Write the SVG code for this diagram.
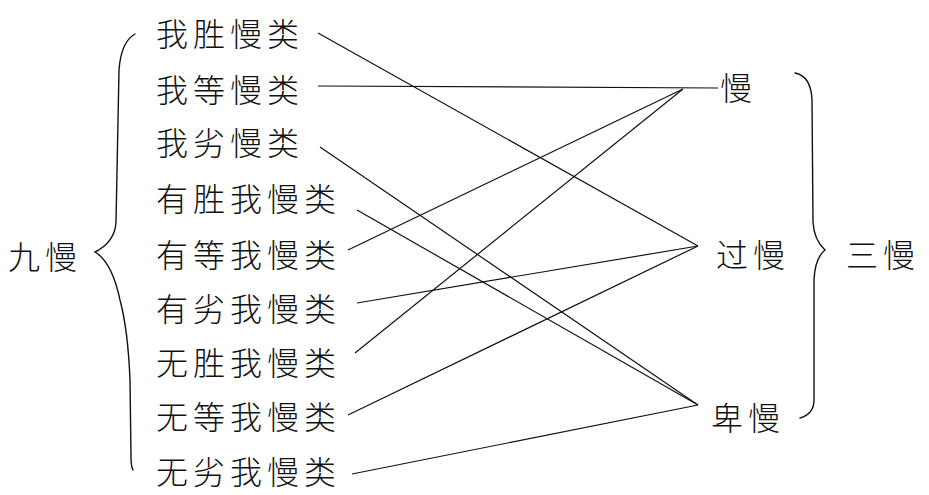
<svg xmlns="http://www.w3.org/2000/svg" width="929" height="495" viewBox="0 0 929 495">
<style>
.t{font-family:"Noto Sans CJK SC","Noto Sans CJK TC",sans-serif;font-size:32px;font-weight:300;fill:#111;dominant-baseline:central;letter-spacing:5px}
.c line{stroke:#111;stroke-width:1.2;fill:none}
.b{stroke:#111;stroke-width:1.4;fill:none;stroke-linecap:round}
</style>
<rect width="929" height="495" fill="#fff"/>
<g id="connectors" class="c">
<line x1="318" y1="33" x2="698" y2="246"/>
<line x1="318" y1="86" x2="718" y2="88"/>
<line x1="320" y1="147" x2="698" y2="405"/>
<line x1="357" y1="210" x2="698" y2="405"/>
<line x1="348" y1="250" x2="683" y2="89"/>
<line x1="357" y1="303" x2="698" y2="246"/>
<line x1="355" y1="353" x2="683" y2="89"/>
<line x1="348" y1="415" x2="698" y2="246"/>
<line x1="352" y1="474" x2="698" y2="405"/>
</g>
<g id="brace-left">
<path class="b" d="M135 34 Q121 42 119 70 L116 222 Q115 242 95 252 Q112 262 120 300 Q128 330 130 380 L131 458 Q131 466 133 470"/>
</g>
<g id="brace-right">
<path class="b" d="M795 73 Q811 76 812 100 L813 222 Q814 240 825 250 Q815 258 814 280 L814 400 Q814 414 800 418"/>
</g>
<g id="n-jiuman"><text class="t" x="8" y="255">九慢</text></g>
<g id="n1"><text class="t" x="156" y="32">我胜慢类</text></g>
<g id="n2"><text class="t" x="156" y="88">我等慢类</text></g>
<g id="n3"><text class="t" x="156" y="141">我劣慢类</text></g>
<g id="n4"><text class="t" x="156" y="197">有胜我慢类</text></g>
<g id="n5"><text class="t" x="156" y="253">有等我慢类</text></g>
<g id="n6"><text class="t" x="156" y="307">有劣我慢类</text></g>
<g id="n7"><text class="t" x="156" y="361">无胜我慢类</text></g>
<g id="n8"><text class="t" x="156" y="415">无等我慢类</text></g>
<g id="n9"><text class="t" x="156" y="470">无劣我慢类</text></g>
<g id="r1"><text class="t" x="720" y="86">慢</text></g>
<g id="r2"><text class="t" x="716" y="253">过慢</text></g>
<g id="r3"><text class="t" x="711" y="416">卑慢</text></g>
<g id="n-sanman"><text class="t" x="846" y="253">三慢</text></g>
</svg>
